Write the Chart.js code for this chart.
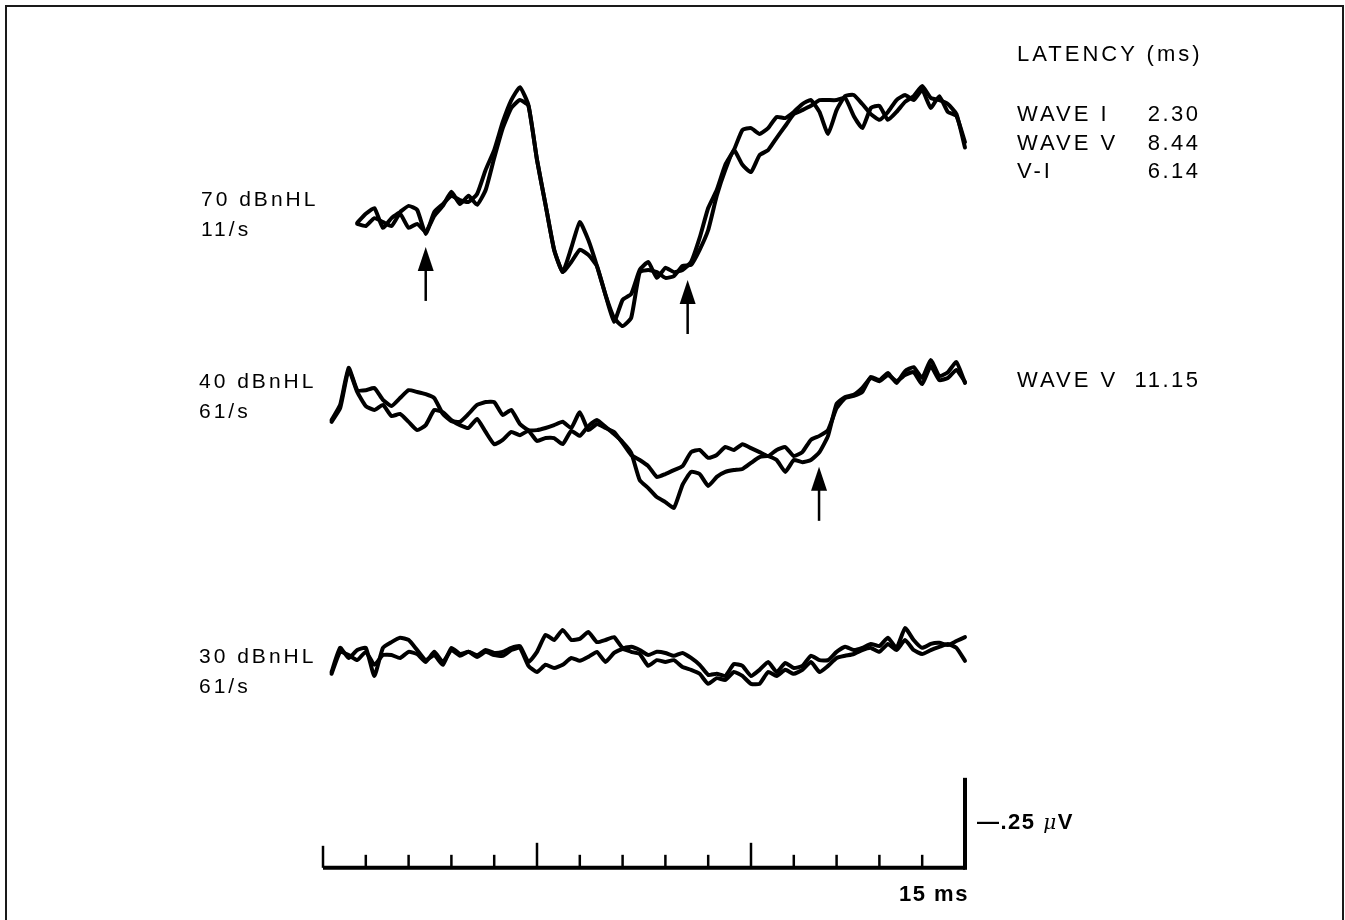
<!DOCTYPE html>
<html>
<head>
<meta charset="utf-8">
<title>ABR waveforms</title>
<script src="https://cdn.jsdelivr.net/npm/chart.js@4.4.1/dist/chart.umd.min.js"></script>
<style>
  body { margin: 0; background: #fff; overflow: hidden; }
  #wrap { position: relative; width: 1345px; height: 920px; }
  #abr { position: absolute; left: 0; top: 0; }
  .frame { position: absolute; left: 5px; top: 5px; width: 1335px; height: 940px;
           border: 2px solid #1a1a1a; border-bottom: none; }
  .lbl { position: absolute; font-family: "Liberation Sans", Arial, Helvetica, sans-serif;
         font-size: 22px; line-height: 22px; letter-spacing: 3px; color: #000; white-space: nowrap; }
  .lvl { font-size: 21px; line-height: 29.5px; }
  .row { width: 181px; display: flex; justify-content: space-between; }
  .row span:last-child { letter-spacing: 2.5px; margin-right: -2.5px; }
  .bold { font-weight: bold; letter-spacing: 1.5px; }
  .mu { font-weight: normal; font-style: italic; font-family: "DejaVu Serif", serif; font-size: 20px; }
</style>
</head>
<body>
<div id="wrap">
  <canvas id="abr" width="1345" height="920"></canvas>
  <div class="frame"></div>

  <div class="lbl lvl" style="left:201px; top:184px;">70 dBnHL<br>11/s</div>
  <div class="lbl lvl" style="left:199px; top:366px;">40 dBnHL<br>61/s</div>
  <div class="lbl lvl" style="left:199px; top:641px;">30 dBnHL<br>61/s</div>

  <div class="lbl" style="left:1017px; top:43px;">LATENCY (ms)</div>
  <div class="lbl row" style="left:1017px; top:103px;"><span>WAVE I</span><span>2.30</span></div>
  <div class="lbl row" style="left:1017px; top:132px;"><span>WAVE V</span><span>8.44</span></div>
  <div class="lbl row" style="left:1017px; top:160px;"><span>V-I</span><span>6.14</span></div>
  <div class="lbl row" style="left:1017px; top:369px;"><span>WAVE V</span><span>11.15</span></div>

  <div class="lbl bold" style="left:977px; top:811px;">—.25 <span class="mu">μ</span>V</div>
  <div class="lbl bold" style="left:899px; top:883px;">15 ms</div>
</div>

<script>
// time grid (ms), one sample every 0.2 ms
const TIME_MS = [
  0.0, 0.2, 0.4, 0.6, 0.8, 1.0, 1.2, 1.4, 1.6, 1.8,
  2.0, 2.2, 2.4, 2.6, 2.8, 3.0, 3.2, 3.4, 3.6, 3.8,
  4.0, 4.2, 4.4, 4.6, 4.8, 5.0, 5.2, 5.4, 5.6, 5.8,
  6.0, 6.2, 6.4, 6.6, 6.8, 7.0, 7.2, 7.4, 7.6, 7.8,
  8.0, 8.2, 8.4, 8.6, 8.8, 9.0, 9.2, 9.4, 9.6, 9.8,
  10.0, 10.2, 10.4, 10.6, 10.8, 11.0, 11.2, 11.4, 11.6, 11.8,
  12.0, 12.2, 12.4, 12.6, 12.8, 13.0, 13.2, 13.4, 13.6, 13.8,
  14.0, 14.2, 14.4, 14.6, 14.8, 15.0
];

// amplitudes in microvolts (positive up), two replications per condition
const W70_A = [
  null, null, null, null, 0.006, 0.031, 0.047, -0.008, 0.019, 0.036,
  0.053, 0.042, -0.025, 0.036, 0.058, 0.081, 0.069, 0.064, 0.086, 0.153,
  0.208, 0.286, 0.347, 0.383, 0.333, 0.181, 0.056, -0.069, -0.131, -0.064,
  0.008, -0.042, -0.114, -0.194, -0.269, -0.208, -0.192, -0.125, -0.103, -0.147,
  -0.119, -0.131, -0.125, -0.103, -0.036, 0.047, 0.097, 0.167, 0.208, 0.264,
  0.269, 0.253, 0.269, 0.300, 0.297, 0.314, 0.336, 0.347, 0.314, 0.253,
  0.319, 0.358, 0.361, 0.336, 0.308, 0.292, 0.314, 0.347, 0.361, 0.347,
  0.375, 0.325, 0.358, 0.314, 0.303, 0.230
];
const W70_B = [
  null, null, null, null, 0.003, -0.003, 0.019, 0.008, -0.003, 0.031,
  -0.008, 0.003, -0.019, 0.025, 0.053, 0.092, 0.058, 0.081, 0.056, 0.097,
  0.186, 0.269, 0.325, 0.347, 0.331, 0.181, 0.056, -0.069, -0.131, -0.103,
  -0.069, -0.083, -0.114, -0.194, -0.258, -0.281, -0.258, -0.131, -0.125, -0.131,
  -0.147, -0.142, -0.114, -0.111, -0.069, -0.014, 0.081, 0.153, 0.208, 0.167,
  0.147, 0.194, 0.208, 0.242, 0.275, 0.308, 0.319, 0.331, 0.347, 0.347,
  0.347, 0.353, 0.303, 0.269, 0.325, 0.331, 0.292, 0.314, 0.342, 0.358,
  0.386, 0.353, 0.347, 0.336, 0.308, 0.215
];
const W40_A = [
  null, -0.014, 0.028, 0.131, 0.069, 0.069, 0.075, 0.042, 0.025, 0.047,
  0.069, 0.064, 0.058, 0.047, 0.003, -0.017, -0.019, 0.003, 0.028, 0.036,
  0.036, 0.000, 0.014, -0.025, -0.042, -0.042, -0.036, -0.028, -0.019, -0.036,
  0.008, -0.042, -0.025, -0.036, -0.047, -0.078, -0.111, -0.125, -0.142, -0.172,
  -0.164, -0.153, -0.142, -0.103, -0.097, -0.119, -0.111, -0.089, -0.097, -0.081,
  -0.092, -0.103, -0.114, -0.097, -0.089, -0.114, -0.103, -0.069, -0.058, -0.042,
  0.019, 0.047, 0.053, 0.064, 0.106, 0.097, 0.117, 0.089, 0.122, 0.133,
  0.103, 0.153, 0.108, 0.119, 0.147, 0.089
];
const W40_B = [
  null, -0.019, 0.019, 0.125, 0.064, 0.025, 0.014, 0.028, -0.003, 0.003,
  -0.019, -0.042, -0.028, 0.014, 0.008, -0.014, -0.028, -0.036, -0.011, -0.047,
  -0.081, -0.069, -0.047, -0.056, -0.044, -0.072, -0.064, -0.064, -0.081, -0.044,
  -0.058, -0.031, -0.014, -0.033, -0.053, -0.075, -0.105, -0.181, -0.203, -0.228,
  -0.242, -0.258, -0.194, -0.158, -0.164, -0.197, -0.172, -0.158, -0.153, -0.150,
  -0.133, -0.117, -0.114, -0.125, -0.158, -0.125, -0.131, -0.125, -0.103, -0.058,
  0.031, 0.050, 0.056, 0.075, 0.103, 0.094, 0.111, 0.094, 0.111, 0.119,
  0.086, 0.136, 0.097, 0.103, 0.125, 0.092
];
const W30_A = [
  null, -0.039, 0.028, 0.000, 0.022, 0.028, -0.050, 0.028, 0.044, 0.056,
  0.050, 0.022, -0.006, 0.008, -0.019, 0.028, 0.011, 0.017, 0.008, 0.022,
  0.014, 0.017, 0.028, 0.033, -0.011, 0.017, 0.064, 0.050, 0.078, 0.050,
  0.053, 0.072, 0.044, 0.050, 0.058, 0.028, 0.031, 0.022, 0.008, 0.017,
  0.014, 0.006, 0.014, 0.000, -0.019, -0.047, -0.044, -0.050, -0.017, -0.022,
  -0.050, -0.033, -0.011, -0.039, -0.014, -0.028, -0.022, 0.006, -0.006, -0.006,
  0.017, 0.031, 0.022, 0.028, 0.039, 0.033, 0.056, 0.028, 0.083, 0.050,
  0.028, 0.039, 0.042, 0.036, 0.047, 0.058
];
const W30_B = [
  null, -0.044, 0.017, 0.008, -0.006, 0.017, -0.019, 0.008, 0.008, 0.000,
  0.017, 0.011, -0.011, 0.017, -0.011, 0.022, 0.006, 0.017, 0.003, 0.017,
  0.008, 0.006, 0.022, 0.028, -0.022, -0.039, -0.019, -0.028, -0.019, 0.000,
  -0.008, 0.003, 0.017, -0.011, 0.014, 0.025, 0.017, 0.011, -0.022, -0.006,
  -0.011, -0.006, -0.025, -0.033, -0.044, -0.072, -0.056, -0.061, -0.039, -0.050,
  -0.072, -0.072, -0.039, -0.050, -0.033, -0.044, -0.033, -0.011, -0.039, -0.022,
  0.000, 0.006, 0.011, 0.022, 0.028, 0.017, 0.039, 0.022, 0.050, 0.022,
  0.011, 0.022, 0.031, 0.039, 0.028, -0.008
];

// vertical offset of each stimulus level on the page (uV)
const LEVEL_OFFSET_UV = { '70': 0, '40': -0.528, '30': -1.203 };

// time base and calibration
const TIME_TICKS_MS = [0, 1, 2, 3, 4, 5, 6, 7, 8, 9, 10, 11, 12, 13, 14];
const MAJOR_TICKS_MS = [5, 10];
const TIME_END_MS = 15;
const CAL_UV = 0.25;
const TIMEBASE_UV = -1.786;

// latency arrows: time, level, tip amplitude
const ARROW_MS = [2.40, 8.52, 11.59];
const ARROW_LEVEL = ['70', '70', '40'];
const ARROW_TIP_UV = [-0.061, -0.153, -0.144];

const INK = '#000';

function toPoints(values, level) {
  return TIME_MS.map((t, i) => ({
    x: t,
    y: values[i] === null ? null : values[i] + LEVEL_OFFSET_UV[level]
  }));
}

function trace(values, level) {
  return {
    data: toPoints(values, level),
    borderColor: INK,
    borderWidth: 4,
    borderJoinStyle: 'round',
    borderCapStyle: 'round',
    pointRadius: 0,
    tension: 0.15,
    fill: false
  };
}

const overlay = {
  id: 'overlay',
  afterDatasetsDraw(chart) {
    const { ctx, scales: { x, y } } = chart;
    const y0 = y.getPixelForValue(TIMEBASE_UV);
    const xEnd = x.getPixelForValue(TIME_END_MS);
    ctx.save();
    ctx.strokeStyle = INK;
    ctx.fillStyle = INK;

    // time base
    ctx.lineWidth = 4;
    ctx.beginPath();
    ctx.moveTo(x.getPixelForValue(0), y0);
    ctx.lineTo(xEnd, y0);
    ctx.stroke();

    ctx.lineWidth = 2.5;
    TIME_TICKS_MS.forEach(t => {
      const px = x.getPixelForValue(t);
      let len = MAJOR_TICKS_MS.includes(t) ? 25 : 13;
      if (t === 0) len = 22;
      ctx.beginPath();
      ctx.moveTo(px, y0);
      ctx.lineTo(px, y0 - len);
      ctx.stroke();
    });

    // amplitude calibration bar
    ctx.lineWidth = 4;
    ctx.beginPath();
    ctx.moveTo(xEnd, y0 + 2);
    ctx.lineTo(xEnd, y.getPixelForValue(TIMEBASE_UV + CAL_UV));
    ctx.stroke();

    // latency arrows
    ARROW_MS.forEach((t, i) => {
      const px = x.getPixelForValue(t);
      const tip = y.getPixelForValue(ARROW_TIP_UV[i] + LEVEL_OFFSET_UV[ARROW_LEVEL[i]]);
      ctx.lineWidth = 2.5;
      ctx.beginPath();
      ctx.moveTo(px, tip + 18);
      ctx.lineTo(px, tip + 54);
      ctx.stroke();
      ctx.beginPath();
      ctx.moveTo(px, tip);
      ctx.lineTo(px - 8, tip + 24);
      ctx.lineTo(px + 8, tip + 24);
      ctx.closePath();
      ctx.fill();
    });
    ctx.restore();
  }
};

new Chart(document.getElementById('abr').getContext('2d'), {
  type: 'line',
  data: {
    datasets: [
      trace(W70_A, '70'), trace(W70_B, '70'),
      trace(W40_A, '40'), trace(W40_B, '40'),
      trace(W30_A, '30'), trace(W30_B, '30')
    ]
  },
  options: {
    responsive: false,
    animation: false,
    devicePixelRatio: 1,
    layout: { padding: 0 },
    plugins: { legend: { display: false }, tooltip: { enabled: false } },
    scales: {
      x: { type: 'linear', min: -7.547, max: 23.879, display: false },
      y: { type: 'linear', min: -1.931, max: 0.625, display: false }
    }
  },
  plugins: [overlay]
});
</script>
</body>
</html>
